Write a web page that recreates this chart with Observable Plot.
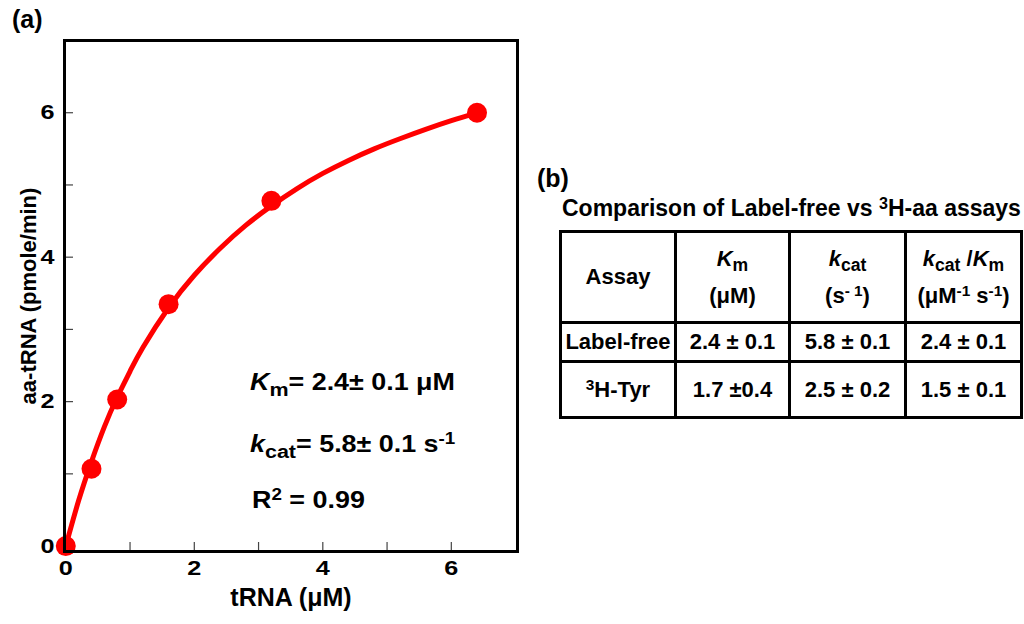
<!DOCTYPE html>
<html>
<head>
<meta charset="utf-8">
<script src="https://cdn.jsdelivr.net/npm/d3@7"></script>
<script src="https://cdn.jsdelivr.net/npm/@observablehq/plot@0.6"></script>
<style>
  html, body { margin: 0; padding: 0; background: #fff; }
  #wrap { position: relative; width: 1024px; height: 624px; overflow: hidden; font-family: "Liberation Sans", Arial, sans-serif; font-weight: bold; color: #000; }
  #chart { position: absolute; left: 0; top: 0; }
  .lbl { position: absolute; white-space: nowrap; line-height: 1; }
  .wide { display: inline-block; transform: scaleX(1.12); transform-origin: left center; }
  .sub { font-size: 0.8em; position: relative; top: 0.3em; line-height: 0; }
  .sup { font-size: 0.7em; position: relative; top: -0.45em; line-height: 0; }
  #tbl { position: absolute; left: 559px; top: 230px; border-collapse: collapse; font-size: 22px; }
  #tbl td { border: 3px solid #000; text-align: center; padding: 0; line-height: 1.65; }
</style>
</head>
<body>
<div id="wrap">
  <div id="chart"></div>
</div>
<script>
// ---- data ----
const substrate = [0, 0.4, 0.8, 1.6, 3.2, 6.4];          // tRNA (µM)
const rate      = [0, 1.07, 2.03, 3.35, 4.78, 6.0];       // aa-tRNA (pmole/min)
const fitX = [0, 0.2, 0.4, 0.6, 0.8, 1.0, 1.2, 1.6, 2.0, 2.4, 2.8, 3.2, 3.6, 4.0, 4.4, 4.8, 5.2, 5.6, 6.0, 6.4];
const fitY = [0, 0.63, 1.17, 1.65, 2.06, 2.42, 2.75, 3.30, 3.75, 4.12, 4.44, 4.71, 4.95, 5.16, 5.34, 5.50, 5.64, 5.77, 5.89, 6.0];
const xTickLabels = [0, 2, 4, 6];
const xMinorTicks = [1, 2, 3, 4, 5, 6];
const yTickLabels = [0, 2, 4, 6];
const yMinorTicks = [1, 2, 3, 4, 5, 6];
const xTitle = "tRNA (\u03bcM)";
const yTitle = "aa-tRNA (pmole/min)";

// table (b)
const assayNames   = ["Label-free", "<span class='sup'>3</span>H-Tyr"];
const kmValues     = ["2.4 \u00b1 0.1", "1.7 \u00b10.4"];
const kcatValues   = ["5.8 \u00b1 0.1", "2.5 \u00b1 0.2"];
const effValues    = ["2.4 \u00b1 0.1", "1.5 \u00b1 0.1"];

const points = substrate.map((x, i) => ({x, y: rate[i]}));
const fit = fitX.map((x, i) => ({x, y: fitY[i]}));

const W = 540, H = 624, mL = 64, mR = 23, mT = 40, mB = 73;
const frameW = W - mL - mR, frameH = H - mT - mB;

const chart = Plot.plot({
  width: W, height: H,
  marginLeft: mL, marginRight: mR, marginTop: mT, marginBottom: mB,
  style: {fontFamily: "'Liberation Sans', Arial, sans-serif", fontSize: "21px", fontWeight: "bold", background: "white", color: "black"},
  x: {domain: [-0.02, 7.03], axis: null},
  y: {domain: [-0.075, 7], axis: null},
  marks: [
    Plot.axisX(xTickLabels, {tickSize: 0, tickPadding: 9, label: null, tickFormat: "d", fontSize: 21}),
    Plot.axisY(yTickLabels, {tickSize: 0, tickPadding: 10, label: null, tickFormat: "d", fontSize: 21}),
    Plot.ruleX(xMinorTicks, {x: d => d, insetTop: frameH - 9, stroke: "#444", strokeWidth: 1.2}),
    Plot.ruleY(yMinorTicks, {y: d => d, insetRight: frameW - 9, stroke: "#444", strokeWidth: 1.2}),
    Plot.line(fit, {x: "x", y: "y", stroke: "#ff0000", strokeWidth: 5, curve: "natural"}),
    Plot.dot(points, {x: "x", y: "y", r: 10, fill: "#ff0000", stroke: null}),
    Plot.frame({stroke: "#000", strokeWidth: 3}),
    Plot.text([xTitle], {text: d => d, frameAnchor: "bottom", dy: 54, fontSize: 25}),
    Plot.text([yTitle], {text: d => d, frameAnchor: "left", textAnchor: "middle", dx: -36, rotate: -90, fontSize: 22})
  ]
});
// the reference uses a wide, heavy face for the tick numbers: widen them about their anchor
chart.querySelectorAll("text").forEach(el => {
  if (/^\d$/.test(el.textContent.trim())) {
    el.style.fontWeight = "bold";
    el.style.fontSize = "21px";
    el.style.fontFamily = "'Liberation Sans', Arial, sans-serif";
    const t = el.getAttribute("transform");
    if (t) el.setAttribute("transform", t + " scale(1.2,1)");
  }
});
document.getElementById("chart").appendChild(chart);

const wrap = document.getElementById("wrap");
function addLabel(html, left, top, size, cls) {
  const d = document.createElement("div");
  d.className = "lbl";
  d.style.left = left + "px";
  d.style.top = top + "px";
  d.style.fontSize = size + "px";
  d.innerHTML = cls ? `<span class="${cls}">${html}</span>` : html;
  wrap.appendChild(d);
  return d;
}
addLabel("(a)", 12, 7, 25);
addLabel("(b)", 537, 166, 25);
addLabel("<i>K</i><span class='sub'>m</span>= 2.4\u00b1 0.1 \u03bcM", 250, 370, 24, "wide");
addLabel("<i>k</i><span class='sub'>cat</span>= 5.8\u00b1 0.1 s<span class='sup'>-1</span>", 250, 432, 24, "wide");
addLabel("R<span class='sup'>2</span> = 0.99", 252, 488, 24, "wide");
addLabel("Comparison of Label-free vs <span class='sup'>3</span>H-aa assays", 562, 197, 23);

// table
const tbl = document.createElement("table");
tbl.id = "tbl";
const colW = [112, 111, 113, 113];
const header = [
  "Assay",
  "<i>K</i><span class='sub'>m</span><br>(\u03bcM)",
  "<i>k</i><span class='sub'>cat</span><br>(s<span class='sup'>- 1</span>)",
  "<i>k</i><span class='sub'>cat</span> /<i>K</i><span class='sub'>m</span><br>(\u03bcM<span class='sup'>-1</span> s<span class='sup'>-1</span>)"
];
const rowsHtml = [header].concat(assayNames.map((a, i) => [a, kmValues[i], kcatValues[i], effValues[i]]));
const rowH = [91, 38, 56];
rowsHtml.forEach((r, ri) => {
  const tr = document.createElement("tr");
  tr.style.height = rowH[ri] + "px";
  r.forEach((c, ci) => {
    const td = document.createElement("td");
    td.style.width = colW[ci] + "px";
    td.innerHTML = c;
    if (ri === 0) td.style.lineHeight = "1.7";
    tr.appendChild(td);
  });
  tbl.appendChild(tr);
});
wrap.appendChild(tbl);
</script>
</body>
</html>
